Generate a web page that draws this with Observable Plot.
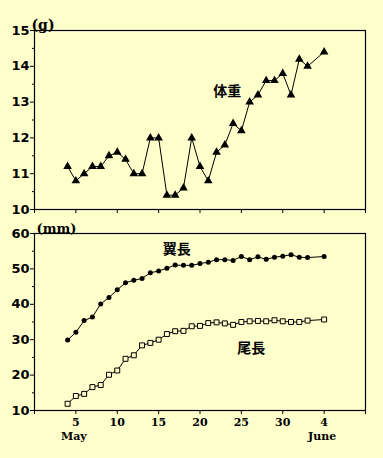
<!DOCTYPE html>
<html><head><meta charset="utf-8">
<script src="https://cdn.jsdelivr.net/npm/d3@7"></script>
<script src="https://cdn.jsdelivr.net/npm/@observablehq/plot@0.6"></script>
<style>
html,body{margin:0;padding:0;background:#ffffcc;}
#wrap{position:relative;width:383px;height:458px;background:#ffffcc;overflow:hidden;}
#wrap svg{position:absolute;left:0;}
</style></head>
<body><div id="wrap"></div>
<script>
// Day of May (32 = June 1 ... 35 = June 4)
const days = [4,5,6,7,8,9,10,11,12,13,14,15,16,17,18,19,20,21,22,23,24,25,26,27,28,29,30,31,32,33,35];
const weight = [11.2,10.8,11.0,11.2,11.2,11.5,11.6,11.4,11.0,11.0,12.0,12.0,10.4,10.4,10.6,12.0,11.2,10.8,11.6,11.8,12.4,12.2,13.0,13.2,13.6,13.6,13.8,13.2,14.2,14.0,14.4];
const wing = [29.9,32.1,35.4,36.4,40.1,41.9,44.1,46.1,46.8,47.3,48.9,49.4,50.2,51.1,51.0,51.0,51.5,51.9,52.6,52.6,52.4,53.5,52.6,53.4,52.7,53.3,53.6,54.0,53.3,53.2,53.5];
const tail = [11.9,14.1,14.7,16.6,17.2,20.1,21.3,24.6,25.6,28.4,29.1,30.0,31.6,32.4,32.5,33.8,33.9,34.7,34.9,34.6,34.2,35.0,35.2,35.3,35.2,35.5,35.2,35.0,35.0,35.4,35.7];
const xTicks = [0,5,10,15,20,25,30,35,40];
const xLabelValues = [5,10,15,20,25,30,35];
const xLabelTexts = ["5","10","15","20","25","30","4"];
const weightTicks = [10,11,12,13,14,15];
const weightMinor = [10.5,11.5,12.5,13.5,14.5];
const lenTicks = [10,20,30,40,50,60];
const lenMinor = [15,25,35,45,55];
const monthLabels = [{x:5,t:"May"},{x:35,t:"June"}];

const rows = days.map((d,i)=>({d, w:weight[i], wing:wing[i], tail:tail[i]}));
const yFont = {fontFamily:"DejaVu Sans", fontWeight:"bold", fontSize:13};
const serifB = {fontFamily:"DejaVu Serif", fontWeight:"bold"};
const cjk = {fontFamily:"Noto Sans CJK JP", fontWeight:"bold", fontSize:14};
const xLabelMap = new Map(xLabelValues.map((v,i)=>[v,xLabelTexts[i]]));
const intFmt = d => String(d);

const topChart = Plot.plot({
  width:383, height:220, marginLeft:34, marginRight:18, marginTop:30, marginBottom:11,
  style:{background:"transparent", overflow:"visible", color:"black"},
  x:{domain:[0,40]},
  y:{domain:[10,15]},
  marks:[
    Plot.axisX({ticks:xTicks, tickSize:4, tickFormat:()=>"", label:null}),
    Plot.axisY({ticks:weightTicks, tickSize:4, tickPadding:1, tickFormat:intFmt, label:null, ...yFont}),
    Plot.axisY({ticks:weightMinor, tickSize:2, tickFormat:()=>"", label:null}),
    Plot.frame({stroke:"black", strokeWidth:1.2}),
    Plot.line(rows, {x:"d", y:"w", stroke:"black", strokeWidth:1}),
    Plot.dot(rows, {x:"d", y:"w", symbol:"triangle", fill:"black", r:3.2}),
    Plot.text(["(g)"], {frameAnchor:"top-left", textAnchor:"start", dx:-3, dy:-10, fontSize:14, ...serifB}),
    Plot.text(["体重"], {x:[23.3], y:[13.3], ...cjk})
  ]
});
topChart.style.top = "0px";

const botChart = Plot.plot({
  width:383, height:248, marginLeft:34, marginRight:18, marginTop:23, marginBottom:48,
  style:{background:"transparent", overflow:"visible", color:"black"},
  x:{domain:[0,40]},
  y:{domain:[10,60]},
  marks:[
    Plot.axisX({ticks:xTicks, tickSize:4, tickPadding:4, tickFormat:d=>xLabelMap.get(d) ?? "", label:null, fontSize:11, ...serifB}),
    Plot.axisY({ticks:lenTicks, tickSize:4, tickPadding:1, tickFormat:intFmt, label:null, ...yFont}),
    Plot.axisY({ticks:lenMinor, tickSize:2, tickFormat:()=>"", label:null}),
    Plot.frame({stroke:"black", strokeWidth:1.2}),
    Plot.line(rows, {x:"d", y:"wing", stroke:"black", strokeWidth:1}),
    Plot.dot(rows, {x:"d", y:"wing", fill:"black", r:2.5}),
    Plot.line(rows, {x:"d", y:"tail", stroke:"black", strokeWidth:1}),
    Plot.dot(rows, {x:"d", y:"tail", symbol:"square", fill:"#ffffcc", stroke:"black", strokeWidth:1, r:2.8}),
    Plot.text(["(mm)"], {frameAnchor:"top-left", textAnchor:"start", dx:2, dy:-10, fontSize:13, ...serifB}),
    Plot.text(["翼長"], {x:[17.2], y:[55.5], ...cjk}),
    Plot.text(["尾長"], {x:[26.2], y:[27.5], ...cjk}),
    Plot.text(monthLabels, {x:"x", text:"t", frameAnchor:"bottom", dy:29, dx:-2, fontSize:11, ...serifB})
  ]
});
botChart.style.top = "210px";

const wrap = document.getElementById("wrap");
wrap.appendChild(topChart);
wrap.appendChild(botChart);
</script></body></html>
